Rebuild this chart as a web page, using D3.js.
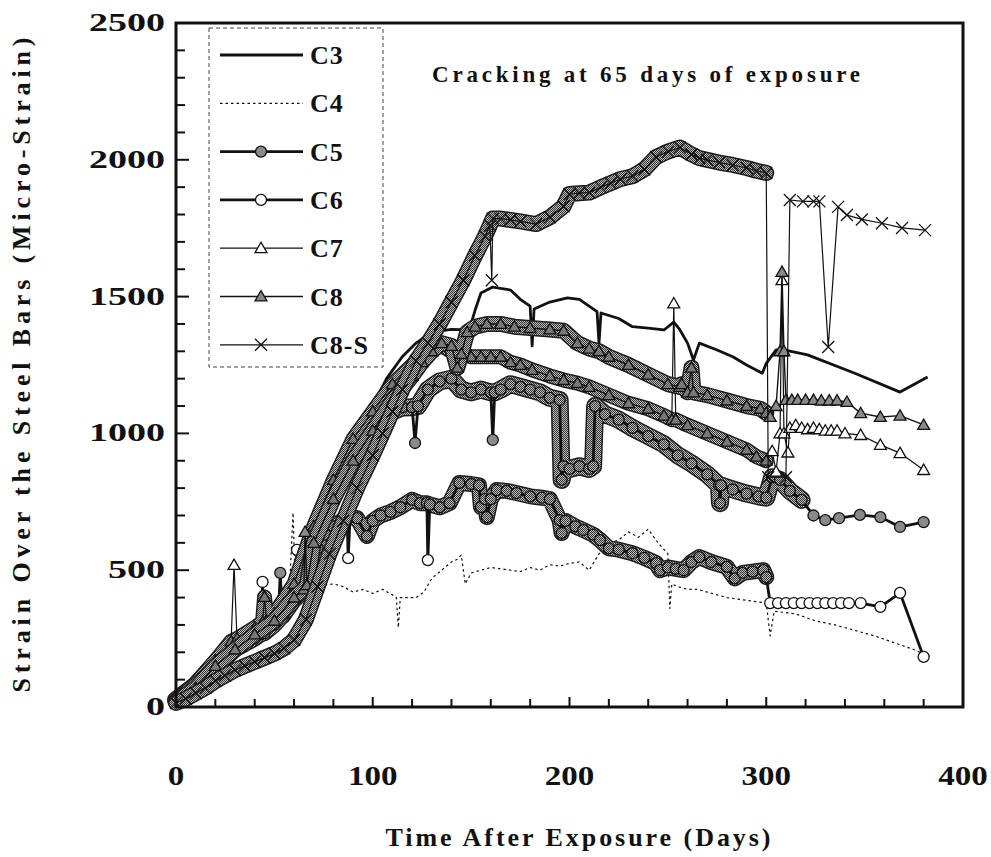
<!DOCTYPE html>
<html>
<head>
<meta charset="utf-8">
<script src="https://cdn.jsdelivr.net/npm/d3@7"></script>
<style>
  html, body { margin: 0; padding: 0; background: #fff; }
  svg { display: block; }
  text { font-family: "Liberation Serif", "Times New Roman", serif; font-weight: bold; fill: #111; }
</style>
</head>
<body>
<div id="chart"></div>
<script>
// ─── data : [day, micro-strain] ───
const C3 = [[0,30],[10,90],[20,180],[30,260],[40,300],[50,360],[60,480],[70,700],[80,860],[90,1000],[100,1100],[107,1200],[115,1280],[122,1330],[130,1370],[140,1380],[149,1378],[152,1450],[155,1513],[161,1535],[170,1524],[175,1490],[180,1465],[181,1320],[182,1455],[190,1480],[199,1495],[205,1490],[214,1445],[215,1330],[216,1440],[225,1420],[232,1390],[240,1385],[248,1378],[253,1407],[256,1380],[260,1330],[263,1268],[266,1330],[275,1305],[283,1280],[290,1250],[298,1220],[300,1256],[305,1305],[309,1305],[321,1287],[345,1220],[368,1151],[382,1206]];

const C4 = [[0,20],[10,70],[20,140],[30,210],[40,260],[50,300],[57,330],[59.5,710],[61,360],[65,400],[70,430],[75,445],[80,450],[85,440],[90,420],[95,430],[100,415],[105,430],[110,410],[112,400],[113,290],[114,400],[118,400],[122,400],[126,420],[130,470],[135,500],[140,530],[143,540],[145,555],[147,450],[150,490],[155,500],[160,510],[165,505],[170,500],[175,495],[180,510],[185,500],[190,520],[195,515],[200,525],[205,530],[210,500],[215,560],[220,600],[225,610],[230,640],[235,620],[240,650],[245,600],[250,560],[251,360],[252,450],[255,440],[260,430],[265,430],[270,420],[275,410],[280,400],[285,395],[290,390],[295,385],[300,380],[302,260],[304,350],[310,345],[315,340],[325,315],[335,300],[345,280],[355,260],[365,235],[375,210],[383,185]];

const C5 = [[0,25],[10,80],[20,160],[30,230],[40,280],[50,320],[52,330],[53,490],[54,335],[60,420],[70,630],[80,800],[90,940],[100,1030],[110,1080],[115,1095],[120,1096],[121.5,965],[123,1100],[128,1160],[134,1190],[140,1200],[145,1160],[150,1150],[155,1160],[160,1150],[161,976],[162,1150],[165,1160],[170,1180],[175,1170],[180,1160],[185,1150],[190,1130],[195,1122],[196,830],[197,880],[200,870],[205,880],[210,870],[212,880],[213,1100],[218,1070],[225,1050],[232,1020],[240,990],[248,960],[255,920],[262,890],[270,850],[276,810],[276.5,745],[277,810],[283,795],[290,780],[296,770],[300,765],[303,840],[307,830],[312,790],[318,757],[324,700],[330,683],[337,690],[347.6,702],[358,694],[368,658],[380,676]];

const C6 = [[0,20],[10,70],[20,140],[30,210],[40,250],[43,265],[44,457],[45,270],[50,300],[55,340],[60,390],[61.5,574],[63,410],[68,510],[72,580],[76,630],[80,660],[84,680],[87,690],[87.5,544],[88.5,694],[92,690],[97,625],[100,680],[104,700],[109,713],[114,730],[120,757],[124,745],[127.5,745],[128,537],[129,740],[134,730],[139,745],[144,819],[150,815],[154,810],[155,731],[157,760],[158,694],[160,760],[163,793],[168,790],[173,782],[180,770],[186,765],[190,760],[195,683],[196,636],[198,680],[203,660],[207,647],[212,630],[215.5,610],[220,580],[225,575],[232,562],[238,545],[244,526],[246,500],[250,510],[254,505],[258,500],[262,530],[266,548],[272,530],[280,512],[284,470],[288,490],[293,495],[298.5,500],[300,475],[302,380],[306,380],[310,380],[314,380],[318,380],[322,380],[326,380],[330,380],[334,380],[338,380],[342,380],[348,380],[358,366],[368,417],[380,183]];

const C7 = [[0,25],[10,85],[20,170],[28,240],[29.5,519],[31,250],[40,290],[44,310],[45,402],[46,315],[50,340],[60,450],[70,660],[80,830],[90,980],[100,1080],[110,1180],[120,1250],[130,1320],[135,1320],[140,1300],[145,1290],[150,1280],[155,1280],[160,1280],[165,1280],[170,1260],[175,1250],[181,1232],[190,1210],[197,1195],[204,1184],[210,1170],[220,1140],[230,1110],[240,1090],[248,1065],[252,1050],[253,1475],[254,1050],[260,1030],[270,1000],[280,970],[290,940],[295,915],[300,900],[303,935],[305,860],[307,1000],[308,1560],[309,1000],[311,930],[312,1020],[315,1030],[318,1020],[321,1015],[324,1020],[327,1015],[330,1010],[333,1010],[336,1010],[340,1000],[348,994],[358,958],[368,928],[380,866]];

const C8 = [[0,20],[10,70],[20,150],[30,210],[40,265],[50,315],[60,400],[65,430],[65.6,640],[66.5,445],[70,600],[80,760],[90,900],[100,1010],[110,1120],[120,1210],[125,1260],[130,1300],[135,1330],[140,1320],[143,1240],[145,1290],[148,1370],[152,1390],[158,1400],[165,1400],[172,1390],[180,1385],[190,1380],[197,1375],[204,1330],[210,1310],[215,1300],[220,1280],[230,1250],[240,1215],[250,1180],[256,1170],[257,1180],[260,1150],[262,1240],[263,1150],[270,1140],[280,1120],[290,1100],[297,1090],[300,1075],[302,1060],[305,1100],[307,1300],[308,1590],[309,1300],[310,1122],[313,1122],[316,1122],[320,1122],[324,1122],[328,1120],[332,1120],[336,1120],[341,1115],[348,1074],[358,1060],[368,1065],[380,1031]];

const C8S = [[0,15],[5,30],[10,50],[15,70],[20,95],[25,115],[30,135],[35,150],[40,165],[45,180],[50,195],[55,215],[60,245],[66,320],[72,440],[78,560],[85,680],[92,800],[100,920],[105,1000],[110,1080],[115,1160],[122,1265],[128,1330],[134,1400],[140,1480],[146,1560],[152,1650],[157,1720],[159.5,1760],[160.5,1560],[161,1785],[165,1785],[170,1780],[175,1775],[183,1765],[190,1790],[197,1830],[200,1875],[205,1878],[210,1880],[216,1900],[221,1915],[226,1930],[232,1940],[238,1965],[244,2010],[250,2030],[256,2045],[262,2020],[266,2006],[270,2000],[276,1990],[283,1981],[290,1970],[295,1960],[300,1952],[301,840],[310,840],[312,1853],[318.7,1848],[324,1848],[327,1848],[331.5,1316],[336.5,1828],[341,1798],[348.6,1782],[358.8,1768],[369,1751],[380.7,1743]];

const X_TICKS = [0, 100, 200, 300, 400];
const Y_TICKS = [0, 500, 1000, 1500, 2000, 2500];
const TITLE   = 'Cracking at 65 days of exposure';
const X_LABEL = 'Time After Exposure (Days)';
const Y_LABEL = 'Strain Over the Steel Bars (Micro-Strain)';

// ─── styles ───
const SERIES = [
  { name: 'C3',   data: C3,  width: 2.8, dash: null },
  { name: 'C4',   data: C4,  width: 1.2, dash: '2.5,3' },
  { name: 'C5',   data: C5,  width: 2.8, marker: 'circle',   fill: '#8a8a8a', band: 15, bandEnd: 320 },
  { name: 'C6',   data: C6,  width: 2.8, marker: 'circle',   fill: '#ffffff', band: 13, bandEnd: 300.5 },
  { name: 'C7',   data: C7,  width: 1.2, marker: 'triangle', fill: '#ffffff', band: 12, bandEnd: 300.5 },
  { name: 'C8',   data: C8,  width: 1.4, marker: 'triangle', fill: '#8a8a8a', band: 13, bandEnd: 300.5 },
  { name: 'C8-S', data: C8S, width: 1.2, marker: 'cross',    fill: 'none',    band: 13, bandEnd: 300.5 }
];

const W = 991, H = 857;
const plot = { left: 176, right: 963, top: 23, bottom: 707 };

const x = d3.scaleLinear().domain([0, 400]).range([plot.left, plot.right]);
const y = d3.scaleLinear().domain([0, 2500]).range([plot.bottom, plot.top]);

const svg = d3.select('#chart').append('svg').attr('width', W).attr('height', H);

// halftone grey like the scanned figure
const pat = svg.append('defs').append('pattern').attr('id', 'dither')
  .attr('patternUnits', 'userSpaceOnUse').attr('width', 2).attr('height', 2);
pat.append('rect').attr('width', 2).attr('height', 2).attr('fill', '#bdbdbd');
pat.append('rect').attr('width', 1).attr('height', 1).attr('fill', '#333');
pat.append('rect').attr('x', 1).attr('y', 1).attr('width', 1).attr('height', 1).attr('fill', '#333');
const BAND_GREY = 'url(#dither)';

// ─── helpers ───
function spikeFlags(pts) {
  return pts.map((p, i) => {
    if (i === 0 || i === pts.length - 1) return false;
    const a = pts[i - 1], b = pts[i + 1];
    const da = p[1] - a[1], db = p[1] - b[1];
    return Math.abs(da) > 90 && Math.abs(db) > 90 && Math.sign(da) === Math.sign(db) && (b[0] - a[0]) <= 3.5;
  });
}

function drawMarker(g, type, cx, cy, fill) {
  if (type === 'circle') {
    g.append('circle').attr('cx', cx).attr('cy', cy).attr('r', 5.5)
      .attr('fill', fill).attr('stroke', '#111').attr('stroke-width', 1.3);
  } else if (type === 'triangle') {
    g.append('path').attr('d', d3.symbol(d3.symbolTriangle, 62)())
      .attr('transform', `translate(${cx},${cy + 1})`)
      .attr('fill', fill).attr('stroke', '#111').attr('stroke-width', 1.3);
  } else if (type === 'cross') {
    const s = 6;
    g.append('path').attr('d', `M${cx - s},${cy - s}L${cx + s},${cy + s}M${cx - s},${cy + s}L${cx + s},${cy - s}`)
      .attr('stroke', '#111').attr('stroke-width', 1.3).attr('fill', 'none');
  }
}

const line = d3.line().x(d => x(d[0])).y(d => y(d[1]));

// ─── series ───
const gData = svg.append('g');
SERIES.forEach(s => {
  const g = gData.append('g');
  const spikes = spikeFlags(s.data);

  if (s.band) {
    const bandPts = s.data.filter((p, i) => p[0] <= s.bandEnd && !spikes[i]);
    g.append('path').attr('d', line(bandPts)).attr('fill', 'none')
      .attr('stroke', '#1c1c1c').attr('stroke-width', s.band + 3)
      .attr('stroke-linejoin', 'round').attr('stroke-linecap', 'round');
    g.append('path').attr('d', line(bandPts)).attr('fill', 'none')
      .attr('stroke', BAND_GREY).attr('stroke-width', s.band)
      .attr('stroke-linejoin', 'round').attr('stroke-linecap', 'round');
  }

  g.append('path').attr('d', line(s.data)).attr('fill', 'none')
    .attr('stroke', '#111').attr('stroke-width', s.width)
    .attr('stroke-dasharray', s.dash)
    .attr('stroke-linejoin', 'round');

  if (s.marker) {
    s.data.forEach((p, i) => {
      const inBand = s.band && p[0] <= s.bandEnd && !spikes[i];
      const fill = inBand && s.marker !== 'cross' ? BAND_GREY : s.fill;
      drawMarker(g, s.marker, x(p[0]), y(p[1]), fill);
    });
  }
});

// ─── axes frame & ticks ───
const gAxis = svg.append('g');
gAxis.append('rect')
  .attr('x', plot.left).attr('y', plot.top)
  .attr('width', plot.right - plot.left).attr('height', plot.bottom - plot.top)
  .attr('fill', 'none').attr('stroke', '#111').attr('stroke-width', 3);

d3.range(20, 400, 20).forEach(t => {
  const len = t % 100 === 0 ? 10 : 8;
  gAxis.append('line').attr('x1', x(t)).attr('x2', x(t))
    .attr('y1', plot.bottom).attr('y2', plot.bottom - len)
    .attr('stroke', '#111').attr('stroke-width', 2);
});
d3.range(100, 2500, 100).forEach(t => {
  const len = t % 500 === 0 ? 13 : 9;
  gAxis.append('line').attr('y1', y(t)).attr('y2', y(t))
    .attr('x1', plot.left).attr('x2', plot.left + len)
    .attr('stroke', '#111').attr('stroke-width', 2);
});

X_TICKS.forEach(t => {
  const lbl = String(t);
  gAxis.append('text').attr('x', x(t)).attr('y', 785)
    .attr('text-anchor', 'middle').attr('font-size', 28)
    .attr('textLength', lbl.length * 16.5).attr('lengthAdjust', 'spacingAndGlyphs')
    .text(lbl);
});
Y_TICKS.forEach(t => {
  const lbl = String(t);
  gAxis.append('text').attr('x', 165).attr('y', y(t) + 8)
    .attr('text-anchor', 'end').attr('font-size', 25)
    .attr('textLength', lbl.length * 19).attr('lengthAdjust', 'spacingAndGlyphs')
    .text(lbl);
});

// ─── titles ───
svg.append('text').attr('x', 578).attr('y', 846).attr('text-anchor', 'middle')
  .attr('font-size', 26).attr('textLength', 385).attr('lengthAdjust', 'spacing')
  .text(X_LABEL);

svg.append('text').attr('transform', 'translate(30,365) rotate(-90)').attr('text-anchor', 'middle')
  .attr('font-size', 26).attr('textLength', 655).attr('lengthAdjust', 'spacing')
  .text(Y_LABEL);

svg.append('text').attr('x', 646).attr('y', 82).attr('text-anchor', 'middle')
  .attr('font-size', 23).attr('textLength', 428).attr('lengthAdjust', 'spacing')
  .text(TITLE);

// ─── legend ───
const gLeg = svg.append('g');
gLeg.append('rect').attr('x', 209).attr('y', 28).attr('width', 174).attr('height', 339)
  .attr('fill', '#fff').attr('stroke', '#444').attr('stroke-width', 1).attr('stroke-dasharray', '4,3');

SERIES.forEach((s, i) => {
  const cy = 55 + i * 48.3;
  gLeg.append('line').attr('x1', 220).attr('x2', 303).attr('y1', cy).attr('y2', cy)
    .attr('stroke', '#111').attr('stroke-width', s.width).attr('stroke-dasharray', s.dash);
  if (s.marker) drawMarker(gLeg, s.marker, 261, cy, s.fill);
  gLeg.append('text').attr('x', 310).attr('y', cy + 9).attr('font-size', 26)
    .attr('letter-spacing', 1).text(s.name);
});
</script>
</body>
</html>
